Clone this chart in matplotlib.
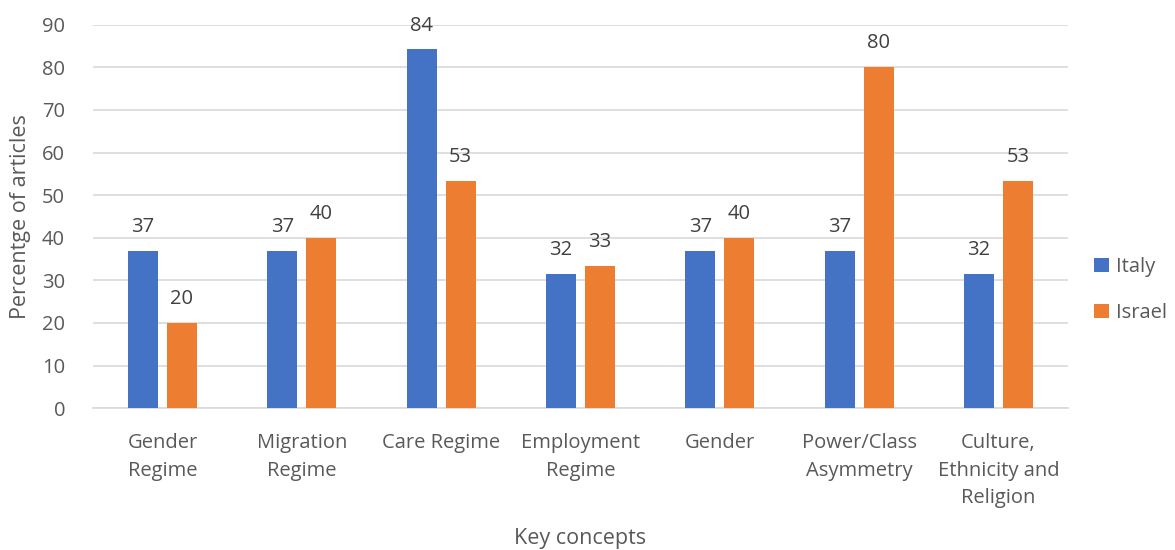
import matplotlib.pyplot as plt
import numpy as np

plt.rcParams['font.family'] = ['Open Sans', 'DejaVu Sans']

concepts = ["Gender\nRegime", "Migration\nRegime", "Care Regime", "Employment\nRegime",
            "Gender", "Power/Class\nAsymmetry", "Culture,\nEthnicity and\nReligion"]
italy = [36.8, 36.8, 84.2, 31.6, 36.8, 36.8, 31.6]
israel = [20.0, 40.0, 53.3, 33.3, 40.0, 80.0, 53.3]

txt = '#595959'
fig = plt.figure(figsize=(11.75, 5.5), dpi=100)
ax = fig.add_axes([0.079, 0.258, 0.830, 0.697])

x = np.arange(len(concepts))
w = 0.215
off = 0.14
b1 = ax.bar(x - off, italy, w, color='#4472C4', label='Italy', zorder=3)
b2 = ax.bar(x + off, israel, w, color='#ED7D31', label='Israel', zorder=3)
for bars in (b1, b2):
    ax.bar_label(bars, labels=['%.0f' % v for v in bars.datavalues], padding=10,
                 fontsize=14.5, color='#404040')

ax.set_xlim(-0.5, len(concepts) - 0.5)
ax.set_ylim(0, 90)
ax.set_yticks(range(0, 91, 10))
ax.yaxis.grid(True, color='#D9D9D9', linewidth=1.2, zorder=0)
ax.set_xticks(x)
ax.set_xticklabels(concepts, fontsize=14.5, color=txt, linespacing=1.5)
ax.tick_params(axis='y', labelsize=14.5, labelcolor=txt, length=0, pad=20)
ax.tick_params(axis='x', length=0, pad=18)
for s in ['top', 'right', 'left']:
    ax.spines[s].set_visible(False)
ax.spines['bottom'].set_color('#D9D9D9')
ax.spines['bottom'].set_linewidth(1.2)

ax.set_ylabel('Percentge of articles', fontsize=15.5, color=txt, labelpad=8)
ax.set_xlabel('Key concepts', fontsize=15.5, color=txt, labelpad=14)

ax.legend(loc='center left', bbox_to_anchor=(1.008, 0.308), frameon=False,
          fontsize=14.5, labelcolor=txt, handlelength=0.75, handleheight=0.75,
          handletextpad=0.35, labelspacing=1.3)

fig.savefig('out.png', dpi=100)
